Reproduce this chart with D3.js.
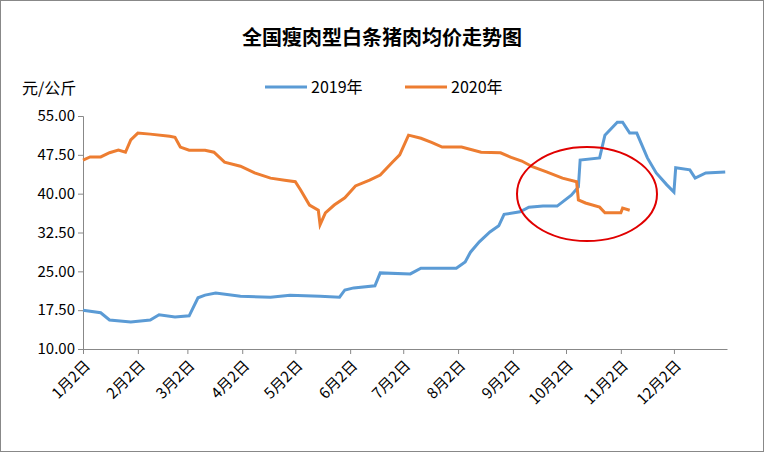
<!DOCTYPE html><html><head><meta charset="utf-8">
<script src="https://cdn.jsdelivr.net/npm/d3@7"></script>
<style>body{margin:0;background:#fff}text{font-family:"Noto Sans CJK SC","Liberation Sans",sans-serif}</style></head><body>
<svg id="c" width="764" height="452"></svg>
<script>
const monthTicks=["1月2日","2月2日","3月2日","4月2日","5月2日","6月2日","7月2日","8月2日","9月2日","10月2日","11月2日","12月2日"];
const monthDays=[0,31,59,90,120,151,181,212,243,273,304,334];
const yTicks=[10,17.5,25,32.5,40,47.5,55];
const days2019=[0,10,15,27,38,43,52,60,65,69,75,89,106,117,134,145,148,153,165,168,185,191,211,216,219,224,230,235,238,247,252,260,268,276,280,281,292,295,302,305,309,313,319,324,330,334,335,343,346,352,363];
const vals2019=[17.5,17,15.6,15.2,15.6,16.6,16.2,16.4,19.9,20.4,20.8,20.2,20,20.4,20.2,20,21.4,21.8,22.2,24.7,24.5,25.6,25.6,26.8,28.7,30.7,32.6,33.8,36,36.5,37.4,37.6,37.6,39.7,41.3,46.5,46.9,51.3,53.8,53.8,51.7,51.7,46.9,44,41.7,40.3,45,44.6,43,44,44.2];
const days2020=[0,4,10,15,20,24,27,31,38,49,52,55,60,69,74,80,89,97,106,114,120,123,128,133,134,137,142,148,154,162,168,175,179,184,191,197,203,214,225,236,242,248,254,262,271,279,280,284,292,295,304,305,309];
const vals2020=[46.5,47.1,47.1,47.9,48.4,48,50.4,51.7,51.5,51.1,50.9,49,48.4,48.4,48,46.1,45.3,44,43,42.6,42.3,40.7,37.8,36.8,34,36.3,37.8,39.2,41.5,42.6,43.6,46.1,47.5,51.3,50.7,49.9,49,49,48,47.9,47,46.3,45.2,44.2,43,42.3,38.8,38.2,37.4,36.3,36.3,37.2,36.8];
const svg=d3.select("#c");
svg.append("rect").attr("x",0.5).attr("y",0.5).attr("width",763).attr("height",451).attr("fill","#fff").attr("stroke","#888");
const x=d3.scaleLinear().domain([0,364]).range([83,727]);
const y=d3.scaleLinear().domain([10,55]).range([349,116]);
svg.append("text").attr("x",382).attr("y",45).attr("text-anchor","middle").attr("font-size",20).attr("font-weight","bold").text("全国瘦肉型白条猪肉均价走势图");
svg.append("text").attr("x",22).attr("y",94).attr("font-size",16).text("元/公斤");
const ya=svg.append("g").attr("transform","translate(83,0)").call(d3.axisLeft(y).tickValues(yTicks).tickFormat(d3.format(".2f")).tickSize(5));
ya.selectAll("text").attr("font-size",15).attr("font-family","Liberation Sans").attr("fill","#000");
ya.selectAll("line,path").attr("stroke","#888");
const xa=svg.append("g").attr("transform","translate(0,349)").call(d3.axisBottom(x).tickValues(monthDays).tickFormat((d,i)=>monthTicks[i]).tickSize(5).tickSizeOuter(0));
xa.selectAll("line,path").attr("stroke","#888");
xa.selectAll("text").attr("font-size",15).attr("fill","#000").attr("text-anchor","end").attr("x",0).attr("y",0).attr("dy","0.35em").attr("transform","translate(4,14) rotate(-45)");
const line=d3.line().x(d=>x(d[0])).y(d=>y(d[1]));
svg.append("path").datum(days2019.map((d,i)=>[d,vals2019[i]])).attr("d",line).attr("fill","none").attr("stroke","#5B9BD5").attr("stroke-width",3);
svg.append("path").datum(days2020.map((d,i)=>[d,vals2020[i]])).attr("d",line).attr("fill","none").attr("stroke","#ED7D31").attr("stroke-width",3);
const leg=[["2019年","#5B9BD5",265],["2020年","#ED7D31",405]];
leg.forEach(l=>{svg.append("line").attr("x1",l[2]).attr("x2",l[2]+42).attr("y1",87).attr("y2",87).attr("stroke",l[1]).attr("stroke-width",3);
svg.append("text").attr("x",l[2]+46).attr("y",93).attr("font-size",16).attr("font-family","Liberation Sans").text(l[0]);});
svg.append("ellipse").attr("cx",587).attr("cy",194).attr("rx",70).attr("ry",47).attr("fill","none").attr("stroke","#E00000").attr("stroke-width",2);
</script></body></html>
